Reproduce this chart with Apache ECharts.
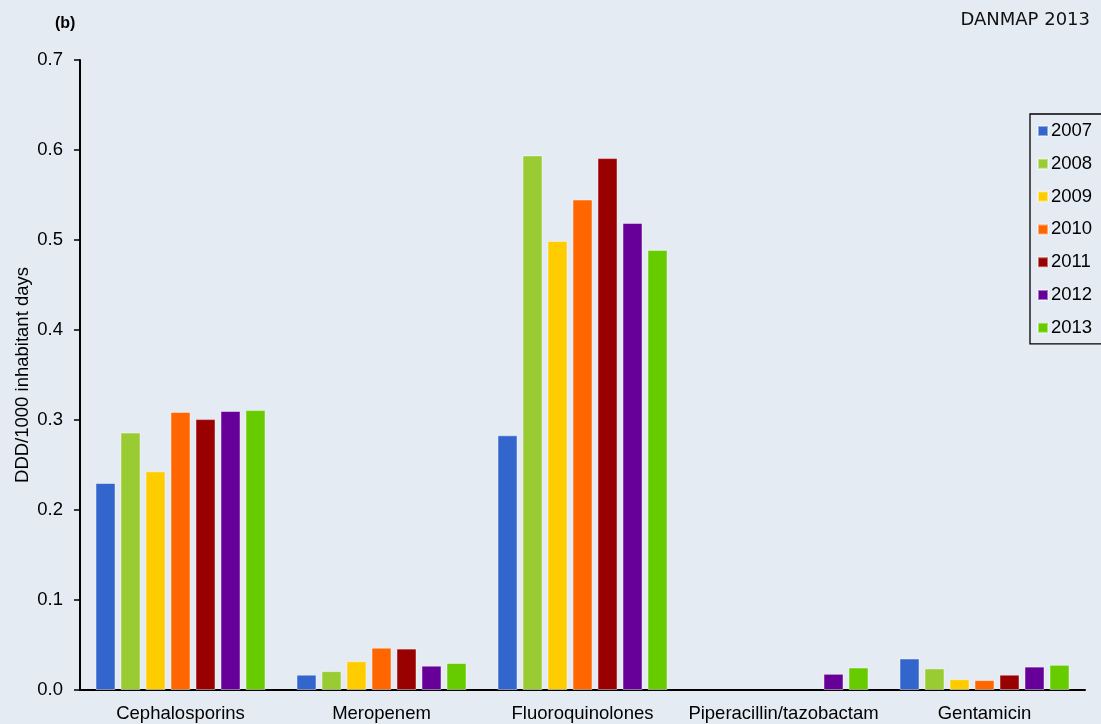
<!DOCTYPE html>
<html>
<head>
<meta charset="utf-8">
<script src="https://cdn.jsdelivr.net/npm/echarts@6/dist/echarts.min.js"></script>
<style>
html,body{margin:0;padding:0;background:#e5ebf3;}
#chart{width:1101px;height:724px;}
</style>
</head>
<body>
<div id="chart"></div>
<script>
const categories = ['Cephalosporins', 'Meropenem', 'Fluoroquinolones', 'Piperacillin/tazobactam', 'Gentamicin'];
const years = ['2007', '2008', '2009', '2010', '2011', '2012', '2013'];
const colors = ['#3366cc', '#99cc33', '#ffcc00', '#ff6600', '#990000', '#660099', '#66cc00'];
const v2007 = [0.230, 0.017, 0.283, null, 0.035];
const v2008 = [0.286, 0.021, 0.594, null, 0.024];
const v2009 = [0.243, 0.032, 0.499, null, 0.012];
const v2010 = [0.309, 0.047, 0.545, null, 0.011];
const v2011 = [0.301, 0.046, 0.591, null, 0.017];
const v2012 = [0.310, 0.027, 0.519, 0.018, 0.026];
const v2013 = [0.311, 0.030, 0.489, 0.025, 0.028];
const yTicks = ['0.0', '0.1', '0.2', '0.3', '0.4', '0.5', '0.6', '0.7'];
const values = [v2007, v2008, v2009, v2010, v2011, v2012, v2013];

const font = 'Liberation Sans, Arial, sans-serif';
const chart = echarts.init(document.getElementById('chart'));
chart.setOption({
  backgroundColor: '#e5ebf3',
  animation: false,
  color: colors,
  textStyle: { fontFamily: font },
  grid: { left: 80, right: 16, top: 60, bottom: 34, containLabel: false },
  graphic: [
    { type: 'text', left: 55, top: 16, style: { text: '(b)', font: 'bold 16px ' + font, fill: '#000' } },
    { type: 'text', right: 11, top: 11, style: { text: 'DANMAP 2013', font: '18px DejaVu Sans, Verdana, sans-serif', fill: '#111' } }
  ],
  legend: {
    orient: 'vertical',
    left: 1030,
    top: 114,
    width: 80,
    data: years,
    icon: 'rect',
    itemWidth: 10,
    itemHeight: 10,
    itemGap: 12.8,
    padding: [7, 12, 6, 7],
    borderColor: '#000',
    borderWidth: 1.3,
    textStyle: { fontSize: 18.5, color: '#000', fontFamily: font, lineHeight: 20, padding: [0, 0, 0, -2] }
  },
  xAxis: {
    type: 'category',
    data: categories,
    axisTick: { show: false },
    axisLine: { lineStyle: { color: '#000', width: 2 } },
    axisLabel: { fontSize: 18.5, color: '#000', margin: 14, fontFamily: font, interval: 0 }
  },
  yAxis: {
    type: 'value',
    min: 0,
    max: 0.7,
    interval: 0.1,
    name: 'DDD/1000 inhabitant days',
    nameLocation: 'middle',
    nameGap: 48,
    nameMoveOverlap: false,
    nameTextStyle: { fontSize: 18.5, color: '#000', fontFamily: font },
    splitLine: { show: false },
    axisLine: { show: true, lineStyle: { color: '#000', width: 2 } },
    axisTick: { show: true, inside: false, length: 6, lineStyle: { color: '#000', width: 1.5 } },
    axisLabel: {
      fontSize: 18.5, color: '#000', margin: 17, fontFamily: font,
      formatter: function (v) { return yTicks[Math.round(v * 10)]; }
    }
  },
  series: years.map(function (y, i) {
    return {
      name: y,
      type: 'bar',
      data: values[i],
      barWidth: 20,
      barGap: '25%',
      barCategoryGap: '15%',
      itemStyle: { color: colors[i], borderColor: 'rgba(255,255,255,0.45)', borderWidth: 1 }
    };
  })
});
</script>
</body>
</html>
